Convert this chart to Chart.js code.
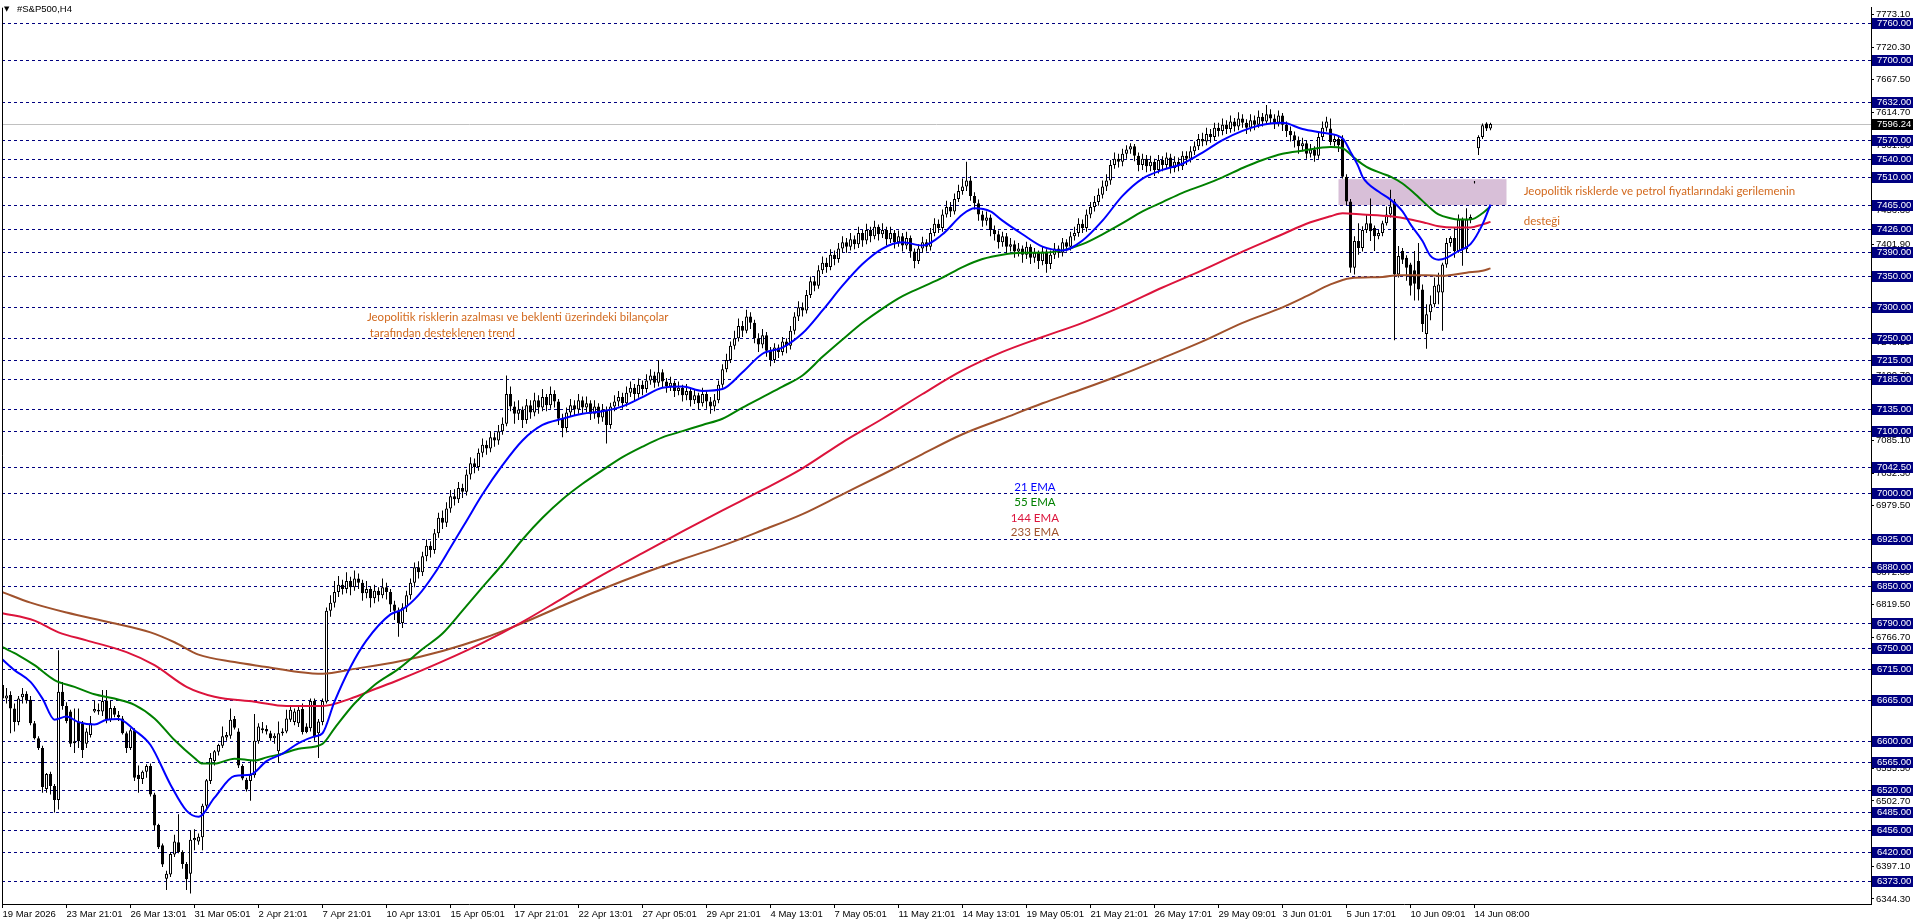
<!DOCTYPE html>
<html><head><meta charset="utf-8">
<script src="https://cdn.jsdelivr.net/npm/chart.js@4.4.1/dist/chart.umd.min.js"></script>
<style>html,body{margin:0;padding:0;background:#fff;overflow:hidden}</style>
</head><body>
<canvas id="c" width="1916" height="923"></canvas>
<script>
// ---------- DATA ----------
const opens=[
6690,6668,6674,6652,6630,6670,6676,6666,6628,6604,
6588,6522,6546,6527,6504,6679,6656,6647,6596,6631,
6628,6595,6609,6647,6650,6647,6665,6634,6653,6642,
6636,6612,6588,6617,6545,6538,6550,6559,6513,6464,
6431,6377,6384,6416,6436,6420,6401,6385,6439,6437,
6444,6495,6535,6567,6582,6592,6605,6608,6635,6615,
6559,6537,6535,6544,6599,6620,6619,6612,6604,6583,
6612,6615,6634,6630,6628,6651,6623,6620,6664,6612,
6630,6663,6810,
6823,6840,6852,6845,6858,6848,6862,6855,6838,6845,
6830,6842,6835,6848,6840,6820,6810,6790,6815,6835,
6855,6880,6872,6898,6915,6908,6935,6960,6952,6975,
6995,6990,7008,7002,7030,7048,7042,7065,7078,7072,
7090,7085,7100,7112,7160,7140,7128,7135,7118,7142,
7130,7150,7138,7155,7142,7160,7148,7120,7105,7130,
7142,7135,7150,7138,7145,7128,7140,7122,7135,7110,
7140,7148,7155,7145,7162,7170,7160,7175,7168,7182,
7190,7178,7195,7180,7172,7178,7165,7170,7158,7165,
7150,7158,7145,7160,7148,7140,7150,7175,7200,7215,
7238,7250,7270,7262,7285,7275,7250,7240,7255,7230,
7215,7235,7228,7245,7238,7262,7285,7300,7295,7320,
7342,7335,7360,7372,7365,7385,7378,7395,7405,7398,
7410,7402,7420,7408,7425,7415,7430,7418,7425,7410,
7420,7405,7415,7400,7412,7390,7375,7395,7405,7398,
7420,7435,7428,7450,7462,7455,7475,7488,7495,7505,
7480,7468,7450,7440,7445,7425,7418,7405,7415,7398,
7402,7390,7395,7385,7398,7380,7388,7375,7390,7370,
7385,7395,7388,7405,7398,7415,7420,7435,7428,7450,
7462,7470,7482,7495,7505,7530,7540,7535,7548,7555,
7560,7545,7530,7540,7528,7535,7522,7538,7530,7542,
7525,7535,7528,7545,7540,7552,7560,7572,7568,7580,
7575,7590,7585,7595,7588,7600,7592,7605,7598,7590,
7602,7595,7608,7600,7612,7605,7598,7610,7595,7585,
7578,7570,7560,7565,7548,7555,7545,7575,7590,7589,
7567,7572,7572,7511,7471,7364,7407,7396,7425,7436,
7428,7415,7420,7436,7450,7471,7353,7391,7380,7369,
7360,7375,7329,7257,7292,7305,7324,7324,7369,7404,
7412,7391,7442,7394,7442,7502,7557,7575,7597,7589];
const highs=[
6698,6685,6680,6660,6672,6685,6680,6672,6632,6607,
6592,6548,6550,6530,6746,6695,6662,6650,6652,6652,
6632,6620,6640,6665,6660,6682,6682,6665,6656,6648,
6640,6615,6620,6620,6560,6552,6562,6563,6516,6466,
6434,6390,6420,6448,6481,6423,6404,6455,6457,6450,
6498,6538,6580,6585,6595,6623,6614,6652,6640,6620,
6562,6540,6567,6643,6628,6630,6625,6616,6612,6631,
6620,6650,6655,6652,6656,6660,6628,6668,6668,6635,
6668,6815,6835,
6858,6866,6860,6872,6865,6875,6870,6860,6858,6850,
6852,6848,6862,6855,6845,6826,6815,6822,6842,6862,
6888,6890,6905,6925,6922,6942,6968,6972,6985,7005,
7006,7018,7015,7038,7058,7056,7072,7088,7085,7100,
7098,7110,7122,7190,7172,7148,7150,7140,7152,7150,
7162,7158,7168,7160,7172,7166,7152,7128,7138,7152,
7150,7160,7156,7156,7150,7150,7145,7144,7140,7146,
7158,7165,7162,7172,7180,7176,7185,7182,7192,7200,
7196,7215,7200,7186,7188,7182,7180,7175,7176,7170,
7168,7162,7170,7165,7155,7160,7182,7208,7225,7245,
7262,7282,7278,7296,7292,7280,7258,7265,7260,7236,
7242,7240,7252,7250,7270,7292,7310,7308,7328,7350,
7350,7368,7382,7380,7394,7392,7404,7415,7412,7420,
7416,7430,7425,7435,7430,7440,7434,7436,7430,7430,
7425,7424,7420,7422,7416,7395,7402,7414,7410,7428,
7444,7442,7458,7472,7470,7484,7498,7508,7535,7512,
7486,7474,7456,7455,7450,7432,7424,7422,7420,7412,
7408,7404,7400,7406,7402,7396,7392,7398,7394,7392,
7404,7400,7412,7410,7422,7430,7444,7442,7458,7470,
7480,7492,7505,7515,7538,7550,7548,7556,7562,7565,
7564,7550,7548,7546,7545,7540,7546,7544,7550,7548,
7544,7542,7552,7552,7560,7568,7580,7582,7590,7588,
7598,7598,7605,7602,7610,7606,7615,7612,7604,7612,
7610,7618,7614,7627,7620,7612,7618,7614,7600,7592,
7584,7576,7574,7570,7564,7560,7582,7600,7608,7605,
7578,7578,7578,7515,7475,7415,7436,7431,7450,7476,
7432,7425,7440,7463,7490,7475,7399,7396,7384,7372,
7391,7404,7337,7305,7319,7348,7356,7372,7412,7415,
7428,7450,7445,7460,7450,7504,7578,7597,7599,7598];
const lows=[
6660,6660,6612,6615,6625,6660,6660,6625,6602,6585,
6516,6516,6513,6484,6489,6650,6628,6590,6580,6588,
6572,6588,6605,6645,6642,6640,6628,6630,6638,6632,
6610,6580,6585,6535,6516,6530,6540,6510,6455,6425,
6396,6359,6380,6412,6418,6393,6359,6353,6423,6432,
6423,6490,6530,6560,6576,6588,6600,6603,6618,6556,
6536,6518,6503,6540,6595,6612,6610,6600,6595,6564,
6608,6612,6630,6625,6622,6610,6612,6615,6600,6572,
6625,6660,6800,
6815,6832,6836,6838,6835,6842,6845,6826,6830,6815,
6822,6825,6830,6828,6808,6795,6768,6782,6808,6828,
6848,6862,6866,6890,6896,6902,6928,6942,6945,6968,
6980,6984,6992,6996,7022,7032,7036,7058,7062,7066,
7075,7078,7094,7108,7132,7112,7118,7105,7112,7120,
7124,7128,7132,7132,7136,7138,7110,7090,7098,7124,
7126,7128,7128,7130,7118,7120,7112,7115,7080,7104,
7132,7140,7136,7140,7155,7150,7154,7158,7162,7175,
7170,7172,7170,7162,7165,7155,7158,7148,7150,7140,
7144,7135,7140,7136,7128,7132,7145,7170,7195,7210,
7232,7245,7252,7258,7265,7242,7228,7234,7220,7205,
7210,7218,7222,7226,7232,7256,7278,7285,7290,7315,
7326,7330,7354,7356,7360,7368,7372,7388,7388,7392,
7394,7396,7398,7402,7405,7410,7408,7412,7400,7404,
7395,7398,7390,7394,7380,7363,7370,7388,7390,7392,
7415,7420,7422,7445,7446,7450,7470,7482,7488,7472,
7458,7440,7430,7432,7415,7408,7395,7398,7388,7390,
7380,7382,7372,7378,7370,7372,7362,7368,7356,7362,
7378,7380,7382,7390,7392,7408,7414,7420,7422,7444,
7455,7464,7476,7488,7498,7524,7526,7528,7540,7548,
7536,7520,7522,7518,7520,7512,7516,7520,7524,7516,
7518,7520,7522,7530,7534,7546,7554,7560,7562,7566,
7570,7576,7578,7580,7582,7584,7586,7590,7580,7584,
7586,7590,7592,7595,7596,7588,7592,7585,7575,7568,
7558,7548,7552,7540,7542,7535,7540,7570,7584,7562,
7560,7551,7508,7465,7356,7353,7385,7390,7420,7407,
7391,7410,7415,7432,7445,7247,7348,7370,7343,7319,
7311,7311,7260,7233,7279,7300,7305,7262,7364,7398,
7380,7388,7367,7388,7436,7500,7546,7572,7585,7586];
const closes=[
6668,6673,6652,6630,6668,6676,6665,6628,6604,6588,
6525,6546,6527,6504,6679,6656,6632,6595,6599,6599,
6585,6615,6628,6651,6647,6664,6634,6653,6642,6638,
6612,6588,6617,6540,6538,6550,6559,6513,6463,6428,
6400,6385,6417,6437,6420,6401,6376,6440,6443,6445,
6495,6536,6572,6583,6593,6607,6609,6634,6621,6560,
6539,6521,6545,6600,6623,6617,6615,6604,6608,6612,
6615,6636,6650,6647,6650,6614,6614,6664,6605,6631,
6664,6810,6823,
6840,6852,6845,6858,6848,6862,6855,6838,6845,6830,
6842,6835,6848,6840,6820,6810,6790,6815,6835,6855,
6880,6872,6898,6915,6908,6935,6960,6952,6975,6995,
6990,7008,7002,7030,7048,7042,7065,7078,7072,7090,
7085,7100,7112,7160,7140,7128,7135,7118,7142,7130,
7150,7138,7155,7142,7160,7148,7120,7105,7130,7142,
7135,7150,7138,7145,7128,7140,7122,7135,7110,7140,
7148,7155,7145,7162,7170,7160,7175,7168,7182,7190,
7178,7195,7180,7172,7178,7165,7170,7158,7165,7150,
7158,7145,7160,7148,7140,7150,7175,7200,7215,7238,
7250,7270,7262,7285,7275,7250,7240,7255,7230,7215,
7235,7228,7245,7238,7262,7285,7300,7295,7320,7342,
7335,7360,7372,7365,7385,7378,7395,7405,7398,7410,
7402,7420,7408,7425,7415,7430,7418,7425,7410,7420,
7405,7415,7400,7412,7390,7375,7395,7405,7398,7420,
7435,7428,7450,7462,7455,7475,7488,7495,7505,7480,
7468,7450,7440,7445,7425,7418,7405,7415,7398,7402,
7390,7395,7385,7398,7380,7388,7375,7390,7370,7385,
7395,7388,7405,7398,7415,7420,7435,7428,7450,7462,
7470,7482,7495,7505,7530,7540,7535,7548,7555,7560,
7545,7530,7540,7528,7535,7522,7538,7530,7542,7525,
7535,7528,7545,7540,7552,7560,7572,7568,7580,7575,
7590,7585,7595,7588,7600,7592,7605,7598,7590,7602,
7595,7608,7600,7612,7605,7598,7610,7595,7585,7578,
7570,7560,7565,7548,7555,7545,7575,7590,7600,7567,
7572,7562,7511,7471,7364,7407,7396,7425,7436,7423,
7415,7420,7436,7450,7463,7353,7383,7377,7364,7335,
7338,7329,7273,7289,7305,7335,7337,7369,7404,7412,
7391,7442,7394,7442,7446,7503,7575,7594,7589,7596];

// EMA lines as [bar index, price]
const ema21=[[0,6731],[3,6714],[7,6695],[10,6668],[13,6634],[16,6639],[19,6630],[23,6626],[26,6634],[29,6635],[33,6617],[37,6593],[42,6529],[46,6487],[49,6477],[53,6508],[58,6543],[62,6545],[66,6567],[70,6579],[74,6596],[78,6607],[80,6612],[83,6663],[87,6719],[91,6762],[97,6804],[100,6812],[104,6835],[108,6870],[112,6912],[116,6955],[120,6998],[125,7045],[130,7085],[135,7110],[140,7120],[145,7128],[150,7132],[155,7140],[160,7155],[165,7170],[170,7172],[175,7165],[180,7168],[185,7195],[190,7225],[195,7235],[200,7258],[205,7295],[210,7335],[215,7370],[220,7395],[225,7405],[230,7400],[235,7418],[240,7450],[243,7460],[247,7455],[250,7440],[255,7418],[260,7398],[265,7392],[270,7408],[275,7440],[280,7480],[285,7508],[290,7522],[295,7532],[300,7550],[305,7570],[310,7585],[315,7595],[320,7598],[325,7588],[330,7582],[335,7573],[337,7551],[339,7527],[340,7511],[344,7487],[347,7474],[350,7455],[352,7434],[355,7407],[357,7383],[359,7377],[361,7380],[364,7391],[367,7402],[370,7434],[372,7466]];
const ema55=[[0,6751],[4,6738],[8,6722],[13,6698],[18,6687],[23,6675],[28,6668],[33,6658],[38,6636],[43,6601],[48,6572],[50,6563],[53,6563],[58,6571],[63,6568],[66,6573],[70,6579],[74,6587],[80,6595],[83,6620],[88,6660],[93,6690],[99,6716],[105,6748],[110,6773],[115,6810],[120,6848],[125,6885],[130,6925],[135,6960],[140,6990],[145,7015],[150,7037],[155,7058],[160,7075],[165,7090],[170,7100],[175,7110],[180,7120],[185,7138],[190,7155],[195,7172],[200,7190],[205,7220],[210,7248],[215,7275],[220,7298],[225,7318],[230,7333],[235,7348],[240,7365],[245,7378],[250,7385],[255,7388],[260,7388],[265,7392],[270,7402],[275,7418],[280,7436],[285,7455],[290,7470],[295,7485],[300,7497],[305,7510],[310,7525],[315,7538],[320,7548],[325,7553],[332,7559],[335,7557],[338,7541],[341,7527],[345,7516],[347,7511],[350,7500],[353,7484],[357,7460],[359,7450],[362,7444],[364,7442],[367,7442],[370,7452],[372,7463]];
const ema144=[[0,6806],[8,6794],[14,6775],[21,6762],[31,6743],[38,6722],[46,6687],[53,6671],[63,6663],[71,6656],[80,6656],[87,6668],[93,6683],[99,6698],[110,6728],[120,6758],[130,6792],[140,6830],[150,6868],[160,6903],[170,6938],[180,6972],[190,7005],[200,7040],[210,7082],[220,7120],[230,7160],[240,7198],[250,7228],[260,7252],[270,7275],[280,7302],[290,7332],[300,7360],[310,7390],[320,7418],[326,7435],[332,7447],[335,7452],[340,7450],[347,7447],[352,7442],[356,7436],[359,7431],[363,7429],[367,7429],[370,7434],[372,7438]];
const ema233=[[0,6840],[7,6823],[16,6807],[27,6791],[37,6775],[43,6759],[49,6739],[58,6727],[66,6719],[74,6711],[80,6708],[88,6716],[99,6728],[110,6745],[120,6765],[130,6790],[140,6818],[150,6845],[160,6870],[170,6893],[180,6915],[190,6940],[200,6966],[210,6998],[220,7030],[230,7063],[240,7095],[250,7120],[260,7145],[270,7168],[280,7192],[290,7218],[300,7245],[310,7275],[320,7300],[326,7318],[332,7337],[337,7347],[345,7349],[349,7352],[356,7352],[360,7351],[366,7356],[370,7359],[372,7363]];

const timeLabels=["19 Mar 2026","23 Mar 21:01","26 Mar 13:01","31 Mar 05:01","2 Apr 21:01","7 Apr 21:01","10 Apr 13:01","15 Apr 05:01","17 Apr 21:01","22 Apr 13:01","27 Apr 05:01","29 Apr 21:01","4 May 13:01","7 May 05:01","11 May 21:01","14 May 13:01","19 May 05:01","21 May 21:01","26 May 17:01","29 May 09:01","3 Jun 01:01","5 Jun 17:01","10 Jun 09:01","14 Jun 08:00"];
const timeLabelBars=[0,16,32,48,64,80,96,112,128,144,160,176,192,208,224,240,256,272,288,304,320,336,352,368];
const priceTicks=[7773.10,7720.30,7667.50,7614.70,7561.90,7456.30,7401.90,7296.30,7243.50,7190.70,7085.10,7032.30,6979.50,6872.30,6819.50,6766.70,6602.30,6555.50,6502.70,6449.90,6397.10,6344.30];
const levelLines=[7760,7700,7632,7570,7540,7510,7465,7426,7390,7350,7300,7250,7215,7185,7135,7100,7042.5,7000,6925,6880,6850,6790,6750,6715,6665,6600,6565,6520,6485,6456,6420,6373];
const currentPrice=7596.24;
const zone={fromBar:334, toBar:376, top:7507, bottom:7465};
const notes=[
  {text:"Jeopolitik risklerin azalması ve beklenti üzerindeki bilançolar", bar:91.1, price:7284, color:"#d2691e", align:"left"},
  {text:" tarafından desteklenen trend", bar:91.1, price:7258.5, color:"#d2691e", align:"left"},
  {text:"Jeopolitik risklerde ve petrol fiyatlarındaki gerilemenin", bar:380.3, price:7487, color:"#d2691e", align:"left"},
  {text:"desteği", bar:380.3, price:7439, color:"#d2691e", align:"left"},
  {text:"21 EMA", bar:258.1, price:7010, color:"#0000ff", align:"center"},
  {text:"55 EMA", bar:258.1, price:6985, color:"#008000", align:"center"},
  {text:"144 EMA", bar:258.1, price:6960, color:"#dc143c", align:"center"},
  {text:"233 EMA", bar:258.1, price:6936, color:"#a0522d", align:"center"}
];

// ---------- CHART ----------
const AXF='"Liberation Sans", Arial, sans-serif';
const wickData=opens.map((o,i)=>({x:i,y:[lows[i],highs[i]]}));
const bodyData=opens.map((o,i)=>({x:i,y:[o,closes[i]]}));
const bodyColors=opens.map((o,i)=>closes[i]>=o?'#ffffff':'#000000');
const toXY=a=>a.map(p=>({x:p[0],y:p[1]}));
const lineDs=(data,color)=>({type:'line',data:toXY(data),borderColor:color,borderWidth:2,pointRadius:0,cubicInterpolationMode:'monotone',order:1});

const overlay={
  id:'overlay',
  beforeDatasetsDraw(chart){
    const {ctx,chartArea:a,scales:{x,y}}=chart;
    ctx.save();
    ctx.fillStyle='#d8bfd8';
    const x1=x.getPixelForValue(zone.fromBar),x2=x.getPixelForValue(zone.toBar);
    const y1=y.getPixelForValue(zone.top),y2=y.getPixelForValue(zone.bottom);
    ctx.fillRect(x1,y1,x2-x1,y2-y1);
    ctx.lineWidth=1;
    ctx.strokeStyle='#c0c0c0';
    let yp=Math.round(y.getPixelForValue(currentPrice))+0.5;
    ctx.beginPath();ctx.moveTo(a.left,yp);ctx.lineTo(a.right,yp);ctx.stroke();
    ctx.strokeStyle='#000080';ctx.setLineDash([3,3]);
    for(const v of levelLines){
      const yy=Math.round(y.getPixelForValue(v))+0.5;
      ctx.beginPath();ctx.moveTo(a.left,yy);ctx.lineTo(a.right,yy);ctx.stroke();
    }
    ctx.restore();
  },
  afterDatasetsDraw(chart){
    const {ctx,scales:{x,y}}=chart;
    ctx.save();
    ctx.font='11.5px Lato, "Open Sans", sans-serif';
    ctx.textBaseline='middle';
    for(const n of notes){
      ctx.fillStyle=n.color;ctx.textAlign=n.align;
      ctx.fillText(n.text,x.getPixelForValue(n.bar),y.getPixelForValue(n.price));
    }
    ctx.restore();
  },
  afterDraw(chart){
    const {ctx,chartArea:a,scales:{y}}=chart;
    ctx.save();
    ctx.strokeStyle='#000';ctx.lineWidth=1;
    ctx.beginPath();ctx.moveTo(a.left+0.5,a.top);ctx.lineTo(a.left+0.5,a.bottom);ctx.stroke();
    ctx.font='9.5px '+AXF;ctx.textBaseline='middle';ctx.textAlign='left';
    const box=(v,bg,txt)=>{
      const yy=Math.round(y.getPixelForValue(v));
      ctx.fillStyle=bg;ctx.fillRect(a.right+1,yy-5,41,11);
      ctx.fillStyle='#fff';ctx.fillText(txt,a.right+6,yy+0.5);
    };
    for(const v of levelLines) box(v,'#000080',v.toFixed(2));
    box(currentPrice,'#000000',currentPrice.toFixed(2));
    // title
    ctx.fillStyle='#000';
    ctx.font='7px "DejaVu Sans", sans-serif';ctx.fillText('\u25BC',4,9);
    ctx.font='9.5px '+AXF;ctx.fillText('#S&P500,H4',17,9.5);
    ctx.restore();
  }
};

new Chart(document.getElementById('c'),{
  type:'bar',
  data:{datasets:[
    lineDs(ema21,'#0000ff'),
    lineDs(ema55,'#008000'),
    lineDs(ema144,'#dc143c'),
    lineDs(ema233,'#a0522d'),
    {type:'bar',data:bodyData,backgroundColor:bodyColors,borderColor:'#000',borderWidth:1,borderSkipped:false,barThickness:3,grouped:false,inflateAmount:0,order:2},
    {type:'bar',data:wickData,backgroundColor:'#000',borderWidth:0,barThickness:1,grouped:false,inflateAmount:0,order:3}
  ]},
  options:{
    responsive:false,animation:false,devicePixelRatio:1,
    layout:{padding:{left:2,top:0,right:0,bottom:0}},
    plugins:{legend:{display:false},tooltip:{enabled:false}},
    scales:{
      x:{type:'linear',min:-0.125,max:467.125,offset:false,
        afterBuildTicks:s=>{s.ticks=timeLabelBars.map(v=>({value:v}));},
        afterFit:s=>{s.height=19;},
        grid:{display:true,drawOnChartArea:false,drawTicks:true,tickLength:4,tickColor:'#000',offset:false},
        border:{display:true,color:'#000',width:1},
        ticks:{autoSkip:false,maxRotation:0,minRotation:0,align:'start',padding:1,color:'#000',font:{family:AXF,size:9.5},
          callback:v=>{const k=timeLabelBars.indexOf(v);return k>=0?timeLabels[k]:'';}}
      },
      y:{type:'linear',position:'right',min:6336.2,max:7784,
        afterBuildTicks:s=>{s.ticks=priceTicks.map(v=>({value:v}));},
        afterFit:s=>{s.width=45;},
        grid:{display:true,drawOnChartArea:false,drawTicks:true,tickLength:3,tickColor:'#000'},
        border:{display:true,color:'#000',width:1},
        ticks:{autoSkip:false,padding:2,color:'#000',font:{family:AXF,size:9.5},callback:v=>Number(v).toFixed(2)}
      }
    }
  },
  plugins:[overlay]
});
</script>
</body></html>
